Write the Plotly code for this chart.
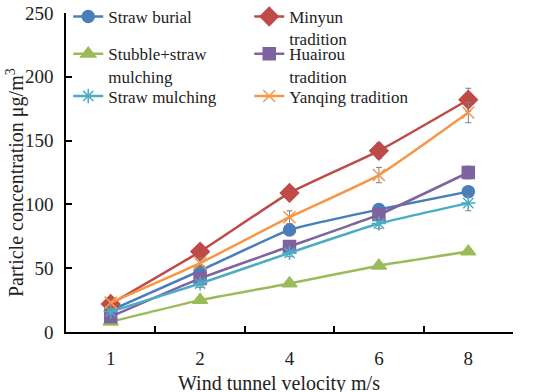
import plotly.graph_objects as go

velocity = ["1", "2", "4", "6", "8"]

straw_burial = [17, 48, 80, 96, 110]
straw_burial_err = [2, 3, 3, 3, 4]
minyun = [22, 63, 109, 142, 182]
minyun_err = [2, 3, 3, 6, 9]
stubble = [8, 25, 38, 52, 63]
stubble_err = [1, 2, 2, 2, 2]
huairou = [12, 42, 67, 92, 125]
huairou_err = [2, 3, 3, 3, 5]
straw_mulching = [16, 38, 62, 85, 101]
straw_mulching_err = [2, 3, 3, 4, 6]
yanqing = [23, 54, 90, 123, 172]
yanqing_err = [2, 4, 5, 6, 8]

series = [
    ("Straw burial", straw_burial, straw_burial_err, "#4A7EBB", "circle", 12, "legend"),
    ("Minyun<br>tradition", minyun, minyun_err, "#BE4B48", "diamond", 14, "legend"),
    ("Stubble+straw<br>mulching", stubble, stubble_err, "#9BBB59", "triangle-up", 13, "legend2"),
    ("Huairou<br>tradition", huairou, huairou_err, "#7F62A0", "square", 12, "legend2"),
    ("Straw mulching", straw_mulching, straw_mulching_err, "#4BACC6", "asterisk-open", 12, "legend3"),
    ("Yanqing tradition", yanqing, yanqing_err, "#F79646", "x-thin-open", 12, "legend3"),
]

fig = go.Figure()
for name, vals, errs, color, sym, size, leg in series:
    fig.add_trace(go.Scatter(
        x=velocity, y=vals, name=name, mode="lines+markers", legend=leg,
        line=dict(color=color, width=2.5, shape="spline", smoothing=0.4),
        marker=dict(symbol=sym, size=size, color=color,
                    line=dict(color=color, width=1.5)),
        error_y=dict(type="data", array=errs, visible=True,
                     color="#7F7F7F", thickness=1, width=3),
    ))

ff = "Liberation Serif"


def legend_row(y):
    return dict(
        orientation="h", x=0.005, y=y, xanchor="left", yanchor="top",
        entrywidth=136, entrywidthmode="pixels", valign="top", itemwidth=30,
        font=dict(family=ff, size=17, color="#222222"),
        bgcolor="rgba(0,0,0,0)", tracegroupgap=0,
    )


fig.update_layout(
    width=550, height=392,
    margin=dict(l=66, r=37, t=13, b=60, autoexpand=False),
    plot_bgcolor="white", paper_bgcolor="white",
    font=dict(family=ff, size=18, color="#222222"),
    showlegend=True,
    legend=legend_row(1.044),
    legend2=legend_row(0.927),
    legend3=legend_row(0.795),
    xaxis=dict(
        type="category", range=[-0.5, 4.5], showline=True, linecolor="black",
        linewidth=1.5, ticks="inside", ticklen=6, tickwidth=1.5,
        tickcolor="black", tickson="boundaries", showgrid=False, zeroline=False,
        automargin=False, tickfont=dict(family=ff, size=19),
        ticklabelstandoff=8, ticklabeloverflow="allow",
    ),
    yaxis=dict(
        range=[0, 250], dtick=50, showline=True, linecolor="black",
        linewidth=1.5, ticks="inside", ticklen=6, tickwidth=1.5,
        tickcolor="black", showgrid=False, zeroline=False,
        automargin=False, tickfont=dict(family=ff, size=19),
        ticklabelstandoff=7, ticklabeloverflow="allow",
    ),
    annotations=[
        dict(text="Wind tunnel velocity m/s", xref="paper", yref="paper",
             x=0.4765, y=-0.16, xanchor="center", yanchor="middle",
             showarrow=False, font=dict(family=ff, size=20, color="#222222")),
        dict(text="Particle concentration μg/m<sup>3</sup>", xref="paper",
             yref="paper", x=-0.114, y=0.467, xanchor="center",
             yanchor="middle", textangle=-90, showarrow=False,
             font=dict(family=ff, size=20, color="#222222")),
    ],
)

fig.write_html("out.html", config={"displayModeBar": False},
               post_script="document.body.style.margin='0';")
